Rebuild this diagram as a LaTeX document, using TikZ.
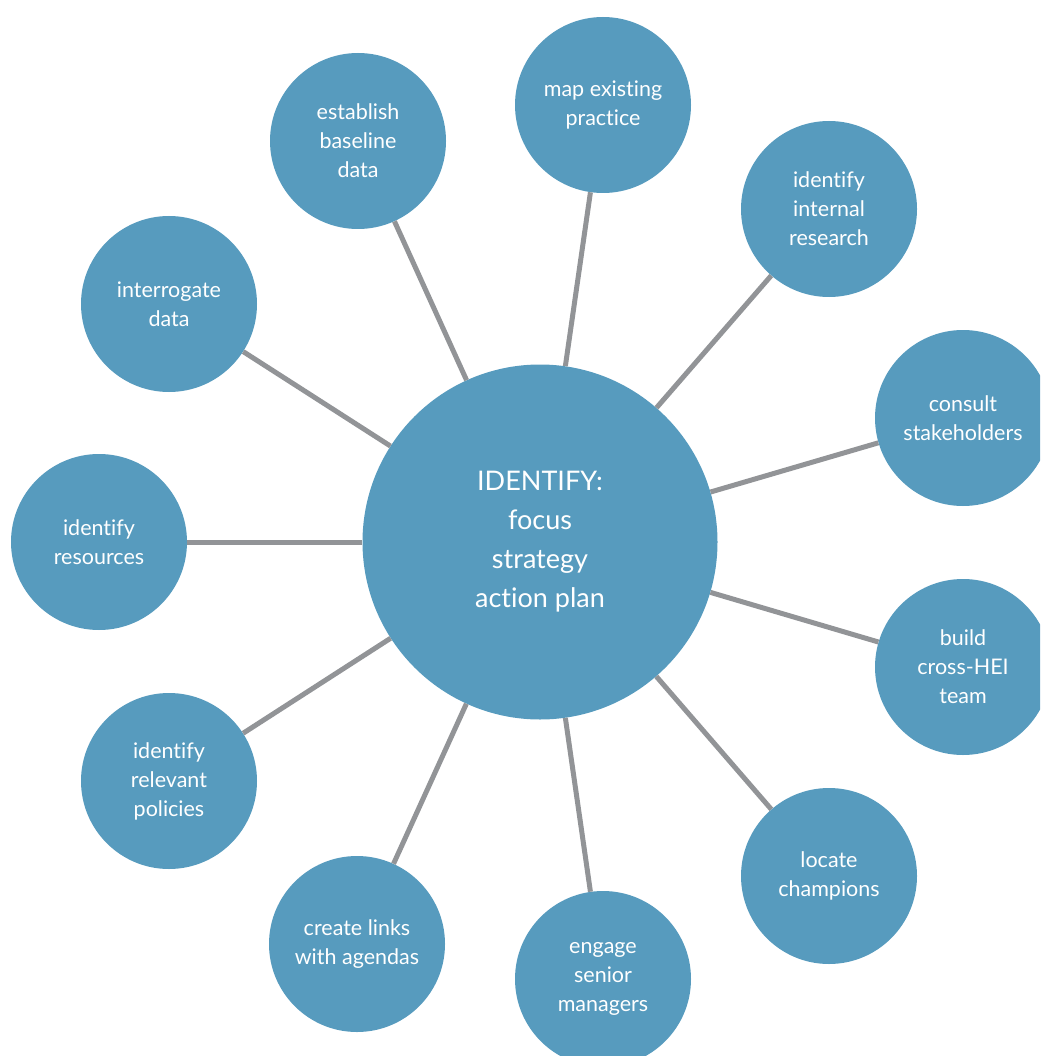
\documentclass[tikz,border=0pt]{standalone}
\usepackage{fontspec}
\setmainfont{Lato}[Ligatures=NoCommon]
\usepackage{tikz}
\definecolor{bubc}{HTML}{579BBE}
\definecolor{spokec}{HTML}{929497}

\begin{document}
\begin{tikzpicture}[
  x=1pt, y=-1pt,
  hubnode/.style={circle, fill=bubc, text=white, align=center, inner sep=0pt,
              minimum size=355pt, font=\fontsize{27}{39}\selectfont},
  bub/.style={circle, fill=bubc, text=white, align=center, inner sep=0pt,
              minimum size=176pt, font=\fontsize{21.5}{29}\selectfont},
  spoke/.style={line width=5pt, draw=spokec}]
\useasboundingbox (0,0) rectangle (1040,1056);
\clip (0,0) rectangle (1040,1056);
\node[hubnode] (hub) at (540,542) {IDENTIFY:\\focus\\strategy\\action plan};
\node[bub] (map)   at (603,105) {map existing\\practice};
\node[bub] (intr)  at (829,209) {identify\\internal\\research};
\node[bub] (cons)  at (963,418) {consult\\stakeholders};
\node[bub] (team)  at (963,667) {build\\cross-HEI\\team};
\node[bub] (champ) at (829,876) {locate\\champions};
\node[bub] (senr)  at (603,979) {engage\\senior\\managers};
\node[bub] (links) at (357,944) {create links\\with agendas};
\node[bub] (pol)   at (169,781) {identify\\relevant\\policies};
\node[bub] (res)   at ( 99,542) {identify\\resources};
\node[bub] (intg)  at (169,304) {interrogate\\data};
\node[bub] (base)  at (358,141) {establish\\baseline\\data};
\foreach \b in {map,intr,cons,team,champ,senr,links,pol,res,intg,base}
  \draw[spoke] (hub) -- (\b);
\end{tikzpicture}
\end{document}
